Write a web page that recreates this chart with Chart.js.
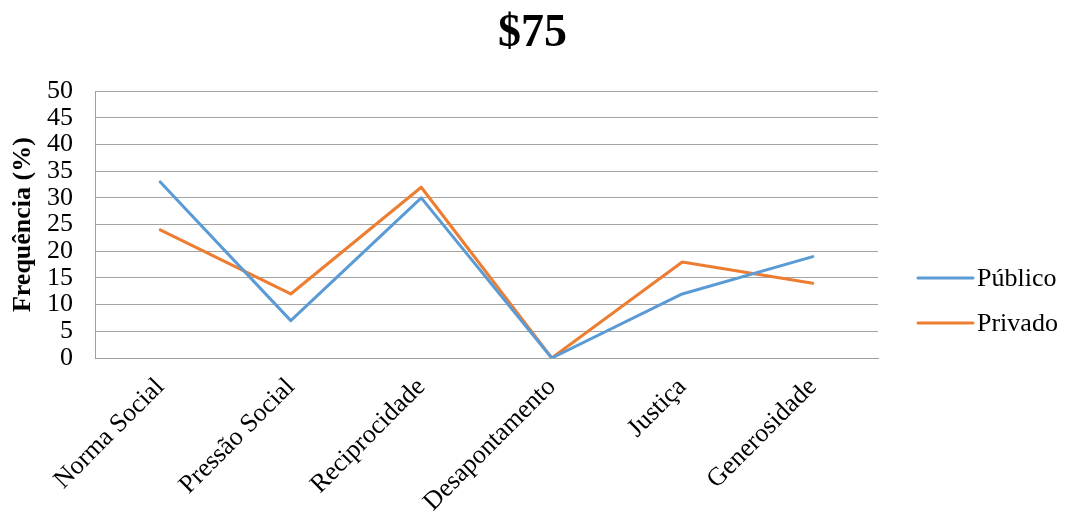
<!DOCTYPE html>
<html>
<head>
<meta charset="utf-8">
<script src="https://cdn.jsdelivr.net/npm/chart.js@4/dist/chart.umd.min.js"></script>
<style>
  html, body { margin: 0; padding: 0; background: #fff; }
  #wrap { width: 1065px; height: 516px; }
</style>
</head>
<body>
<div id="wrap"><canvas id="c" width="1065" height="516"></canvas></div>
<script>
const titleText = '$75';
const categories = ['Norma Social', 'Pressão Social', 'Reciprocidade', 'Desapontamento', 'Justiça', 'Generosidade'];
const publico = [33, 7, 30, 0, 12, 19];
const privado = [24, 12, 32, 0, 18, 14];
const seriesNames = ['Público', 'Privado'];
const seriesColors = ['#5B9BD5', '#ED7D31'];
const yTitle = 'Frequência (%)';
const yMin = 0, yMax = 50, yStep = 5;

const FONT = "'Liberation Serif', 'Times New Roman', serif";

const legendPlugin = {
  id: 'customLegend',
  afterDraw(chart) {
    const ctx = chart.ctx;
    const ds = chart.data.datasets;
    const x0 = 918, x1 = 973, ys = [278, 323];
    ctx.save();
    ds.forEach((d, i) => {
      ctx.strokeStyle = d.borderColor;
      ctx.lineWidth = 3;
      ctx.lineCap = 'round';
      ctx.beginPath();
      ctx.moveTo(x0, ys[i]);
      ctx.lineTo(x1, ys[i]);
      ctx.stroke();
      ctx.fillStyle = '#000';
      ctx.font = '26px ' + FONT;
      ctx.textBaseline = 'middle';
      ctx.textAlign = 'left';
      ctx.fillText(d.label, x1 + 4, ys[i] + 1);
    });
    ctx.restore();
  }
};

new Chart(document.getElementById('c'), {
  type: 'line',
  data: {
    labels: categories,
    datasets: [
      { label: seriesNames[0], data: publico, borderColor: seriesColors[0], backgroundColor: seriesColors[0], yAxisID: 'y' },
      { label: seriesNames[1], data: privado, borderColor: seriesColors[1], backgroundColor: seriesColors[1], yAxisID: 'y' }
    ]
  },
  options: {
    responsive: false,
    animation: false,
    devicePixelRatio: 1,
    layout: { padding: 0 },
    elements: {
      line: { borderWidth: 3, tension: 0, borderCapStyle: 'round', borderJoinStyle: 'round' },
      point: { radius: 0, hoverRadius: 0 }
    },
    plugins: {
      legend: { display: false },
      tooltip: { enabled: false },
      title: {
        display: true,
        text: titleText,
        color: '#000',
        font: { family: FONT, size: 46, weight: 'bold' },
        padding: { top: 7, bottom: 29 }
      }
    },
    scales: {
      x: {
        type: 'category',
        offset: true,
        grid: { display: false, drawTicks: false },
        border: { display: true, color: '#a0a0a0', width: 1 },
        ticks: {
          color: '#000',
          font: { family: FONT, size: 26 },
          maxRotation: 45, minRotation: 45,
          padding: 14,
          autoSkip: false
        },
        afterFit(s) { s.height = 158; }
      },
      y: {
        min: yMin, max: yMax,
        grid: { color: '#a3a3a3', lineWidth: 1, drawTicks: false },
        border: { display: true, color: '#a0a0a0', width: 1 },
        ticks: {
          stepSize: yStep,
          autoSkip: false,
          color: '#000',
          font: { family: FONT, size: 26 },
          padding: 22
        },
        title: {
          display: true,
          text: yTitle,
          color: '#000',
          font: { family: FONT, size: 26, weight: 'bold' },
          padding: { top: 8, bottom: 0 }
        },
        afterFit(s) { s.width = 95; }
      },
      legendSpace: {
        type: 'linear',
        position: 'right',
        min: yMin, max: yMax,
        grid: { display: false, drawTicks: false },
        border: { display: false },
        ticks: { display: false },
        afterFit(s) { s.width = 187; }
      }
    }
  },
  plugins: [legendPlugin]
});
</script>
</body>
</html>
